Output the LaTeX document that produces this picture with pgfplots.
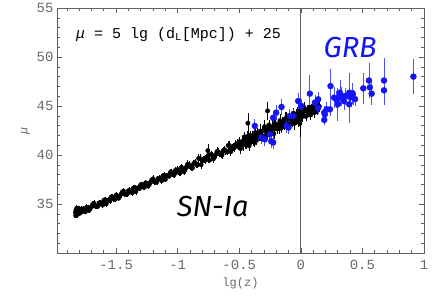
\documentclass[border=0pt]{standalone}
\usepackage{fontspec}
\setmainfont{Liberation Mono}
\newfontfamily\handfont{Fira Sans}
\usepackage{pgfplots}
\usepackage{pgfplotstable}
\pgfplotsset{compat=1.18}
\definecolor{framegray}{RGB}{95,95,95}
\definecolor{ticklab}{RGB}{105,105,105}
\definecolor{grbblue}{RGB}{20,20,245}
\definecolor{grberr}{RGB}{80,80,255}

\pgfplotstableread{
x y e
-1.830 34.15 0.15
-1.828 33.81 0.12
-1.826 34.37 0.18
-1.824 33.93 0.12
-1.822 34.29 0.15
-1.820 34.55 0.2
-1.818 33.88 0.12
-1.815 34.18 0.15
-1.812 34.04 0.12
-1.810 34.50 0.18
-1.806 34.12 0.15
-1.803 34.34 0.15
-1.800 34.03 0.12
-1.796 34.47 0.18
-1.792 34.10 0.12
-1.788 34.37 0.15
-1.784 34.19 0.12
-1.780 34.51 0.18
-1.77 34.46 0.15
-1.75 34.21 0.12
-1.73 34.56 0.15
-1.71 34.52 0.12
-1.69 34.97 0.18
-1.67 34.78 0.15
-1.65 34.75 0.12
-1.63 35.13 0.15
-1.61 34.89 0.15
-1.59 35.44 0.18
-1.57 35.35 0.12
-1.55 35.33 0.15
-1.53 35.70 0.15
-1.51 35.46 0.12
-1.49 35.81 0.18
-1.47 35.77 0.15
-1.45 36.22 0.15
-1.43 36.02 0.12
-1.41 36.00 0.15
-1.39 36.38 0.18
-1.37 36.14 0.15
-1.35 36.69 0.15
-1.33 36.59 0.12
-1.31 36.58 0.15
-1.29 36.95 0.18
-1.27 36.71 0.15
-1.25 37.06 0.15
-1.23 37.01 0.12
-1.21 37.47 0.18
-1.19 37.27 0.15
-1.17 37.25 0.15
-1.15 37.63 0.18
-1.13 37.38 0.15
-1.11 37.94 0.2
-1.09 37.84 0.15
-1.07 37.83 0.15
-1.05 38.20 0.2
-1.03 37.95 0.15
-1.01 38.31 0.2
-1.76 34.26 0.12
-1.74 34.66 0.15
-1.72 34.35 0.12
-1.70 34.75 0.15
-1.68 35.07 0.18
-1.66 34.73 0.12
-1.64 35.10 0.15
-1.62 35.04 0.12
-1.60 35.37 0.15
-1.58 35.01 0.15
-1.56 35.42 0.12
-1.54 35.72 0.18
-1.52 35.51 0.15
-1.50 35.91 0.15
-1.48 35.59 0.12
-1.46 36.00 0.15
-1.44 36.32 0.18
-1.42 35.98 0.15
-1.40 36.35 0.15
-1.38 36.28 0.12
-1.36 36.62 0.15
-1.34 36.26 0.15
-1.32 36.67 0.12
-1.30 36.97 0.18
-1.28 36.75 0.15
-1.26 37.16 0.15
-1.24 36.84 0.15
-1.22 37.25 0.12
-1.20 37.57 0.2
-1.18 37.22 0.15
-1.16 37.60 0.15
-1.14 37.53 0.15
-1.12 37.87 0.18
-1.10 37.51 0.15
-1.08 37.91 0.15
-1.06 38.22 0.2
-1.04 38.00 0.15
-1.02 38.41 0.2
-1.00 38.51 0.2
-0.98 38.17 0.2
-0.96 38.63 0.25
-0.94 38.49 0.2
-0.92 39.05 0.25
-0.90 38.81 0.2
-0.88 38.67 0.2
-0.86 39.23 0.25
-0.84 38.99 0.2
-0.82 39.65 0.3
-0.80 39.41 0.2
-0.78 39.42 0.2
-0.76 39.83 0.25
-0.74 39.49 0.2
-0.72 39.95 0.25
-0.70 39.81 0.2
-0.68 40.37 0.3
-0.66 40.13 0.2
-0.64 39.99 0.25
-0.62 40.55 0.25
-0.60 40.31 0.2
-0.58 40.97 0.3
-0.56 40.73 0.25
-0.54 40.74 0.25
-0.52 41.15 0.3
-0.99 38.22 0.2
-0.97 38.73 0.25
-0.95 38.29 0.2
-0.93 38.75 0.2
-0.91 39.01 0.25
-0.89 38.72 0.2
-0.87 39.13 0.25
-0.85 39.04 0.2
-0.83 39.65 0.3
-0.81 39.01 0.25
-0.79 39.52 0.2
-0.77 39.73 0.25
-0.75 39.54 0.2
-0.73 40.05 0.25
-0.71 39.61 0.25
-0.69 40.07 0.2
-0.67 40.33 0.25
-0.65 40.04 0.2
-0.63 40.45 0.25
-0.61 40.36 0.2
-0.59 40.97 0.3
-0.57 40.33 0.25
-0.55 40.84 0.25
-0.53 41.05 0.3
-0.51 40.86 0.25
-0.755 40.45 0.5
-0.50 41.35 0.3
-0.49 40.66 0.4
-0.48 41.27 0.25
-0.47 41.03 0.5
-0.46 41.84 0.35
-0.45 41.31 0.45
-0.44 41.07 0.3
-0.43 41.68 0.6
-0.42 40.94 0.4
-0.41 42.00 0.35
-0.40 41.66 0.3
-0.39 41.47 0.4
-0.38 41.93 0.25
-0.37 42.29 0.5
-0.36 41.50 0.35
-0.35 42.02 0.45
-0.34 41.88 0.3
-0.33 42.44 0.6
-0.32 41.65 0.4
-0.31 42.46 0.35
-0.30 42.57 0.3
-0.29 41.88 0.4
-0.28 42.49 0.25
-0.27 42.25 0.5
-0.26 43.06 0.35
-0.25 42.53 0.45
-0.24 42.29 0.3
-0.23 42.90 0.6
-0.22 42.16 0.4
-0.21 43.22 0.35
-0.20 42.88 0.3
-0.19 42.69 0.4
-0.18 43.15 0.25
-0.17 43.51 0.5
-0.16 42.72 0.35
-0.15 43.24 0.45
-0.14 43.10 0.3
-0.13 43.66 0.6
-0.12 42.87 0.4
-0.11 43.68 0.35
-0.10 43.79 0.3
-0.09 43.10 0.4
-0.08 43.71 0.25
-0.07 43.47 0.5
-0.06 44.28 0.35
-0.05 43.75 0.45
-0.04 43.51 0.3
-0.03 44.12 0.6
-0.02 43.38 0.4
-0.01 44.44 0.35
0.00 44.10 0.3
0.01 43.91 0.4
0.02 44.37 0.25
0.03 44.73 0.5
0.04 43.94 0.35
0.05 44.46 0.45
0.06 44.32 0.3
0.07 44.88 0.6
0.08 44.09 0.4
0.09 44.90 0.35
0.10 45.01 0.3
0.11 44.32 0.4
0.12 44.93 0.25
0.13 44.69 0.5
0.14 45.05 0.35
0.15 44.97 0.45
-0.495 40.78 0.35
-0.475 41.40 0.3
-0.455 41.22 0.45
-0.435 41.90 0.4
-0.415 41.22 0.3
-0.395 41.79 0.5
-0.375 41.26 0.35
-0.355 42.23 0.4
-0.335 42.11 0.3
-0.315 41.98 0.45
-0.295 42.90 0.5
-0.275 42.02 0.35
-0.255 42.69 0.4
-0.235 42.62 0.3
-0.215 43.14 0.45
-0.195 42.66 0.35
-0.175 42.73 0.4
-0.155 43.35 0.3
-0.135 43.18 0.5
-0.115 43.85 0.4
-0.095 43.17 0.35
-0.075 43.74 0.45
-0.055 43.21 0.5
-0.035 44.19 0.4
-0.015 44.06 0.35
0.005 43.93 0.45
0.025 44.85 0.4
0.045 43.97 0.35
0.065 44.65 0.3
0.085 44.57 0.4
0.105 45.09 0.35
0.125 44.61 0.3
-0.43 43.25 0.85
-0.27 44.50 0.8
-0.008 43.20 1.2
}\sndata

\pgfplotstableread{
x y e
0.914 48.00 1.5
0.675 47.60 2.0
0.675 46.60 1.25
0.553 47.60 1.5
0.575 46.26 0.9
0.560 46.90 0.6
0.507 46.80 1.3
0.393 46.36 1.7
0.393 45.17 1.6
0.425 45.85 0.5
0.358 46.00 0.6
0.317 46.36 1.0
0.290 45.68 0.6
0.300 45.17 1.4
0.330 46.00 0.7
0.241 47.03 1.5
0.270 45.85 0.8
0.236 44.66 0.4
0.190 44.33 0.4
0.190 43.58 0.3
0.209 44.66 0.5
0.141 45.68 0.5
0.073 46.26 1.6
-0.022 45.50 0.6
-0.157 44.90 0.6
-0.374 42.97 0.4
-0.293 41.60 0.4
-0.225 43.80 0.4
-0.100 42.80 0.4
-0.200 44.33 0.5
-0.320 41.78 0.4
-0.252 42.10 0.4
-0.060 43.98 0.4
0.005 45.00 0.5
0.114 45.35 0.5
0.140 44.80 0.4
0.195 44.15 0.5
-0.225 41.28 0.4
-0.240 41.40 0.4
-0.116 42.97 0.5
-0.090 43.98 0.4
0.350 45.50 0.6
0.420 46.30 0.8
0.310 45.90 0.5
0.400 45.90 0.5
0.440 45.70 0.4
}\grbdata

\begin{document}
\begin{tikzpicture}
\useasboundingbox (0,0) rectangle (442pt,295pt);
\begin{axis}[
  at={(57pt,42pt)}, anchor=south west,
  width=367pt, height=245pt, scale only axis,
  xmin=-1.98, xmax=1, ymin=30, ymax=55,
  xtick={-1.5,-1,-0.5,0,0.5,1}, xticklabels={-1.5,-1,-0.5,0,0.5,1},
  ytick={35,40,45,50,55}, yticklabels={35,40,45,50,55},
  minor xtick={-1.9,-1.8,...,0.95},
  minor ytick={31,32,...,54},
  major tick length=5pt, minor tick length=3pt,
  tick style={framegray, line width=0.6pt},
  axis line style={framegray, line width=0.8pt},
  ticklabel style={font=\fontsize{14}{14}\selectfont, text=ticklab},
  xticklabel style={yshift=-4pt},
  xlabel={lg(z)}, ylabel={\textit{μ}},
  label style={font=\fontsize{12}{12}\selectfont, text=ticklab},
  xlabel style={yshift=-1pt},
  clip=true,
]
\addplot[framegray, line width=0.8pt] coordinates {(0,30) (0,55)};
\addplot[only marks, mark=*, mark size=2.2pt, black, mark options={fill=black, draw=black},
  error bars/.cd, y dir=both, y explicit,
  error bar style={line width=0.5pt, black},
  error mark options={mark size=1.4pt, black, line width=0.5pt}]
  table[x=x, y=y, y error=e]{\sndata};
\addplot[only marks, mark=*, mark size=3pt, grbblue, mark options={fill=grbblue, draw=grbblue},
  error bars/.cd, y dir=both, y explicit,
  error bar style={line width=0.7pt, grberr},
  error mark options={mark size=2.6pt, grberr, line width=0.7pt}]
  table[x=x, y=y, y error=e]{\grbdata};
\node[anchor=west, font=\fontsize{15}{15}\selectfont, text=black] at (axis cs:-1.854,52.3) {\textit{μ} = 5 lg (d\textsubscript{L}[Mpc]) + 25};
\node[text=grbblue, font=\handfont\itshape\fontsize{29}{29}\selectfont] at (axis cs:0.40,50.97) {GRB};
\node[text=black, font=\handfont\itshape\fontsize{29}{29}\selectfont] at (axis cs:-0.715,34.7) {SN-Ia};
\end{axis}
\end{tikzpicture}
\end{document}
